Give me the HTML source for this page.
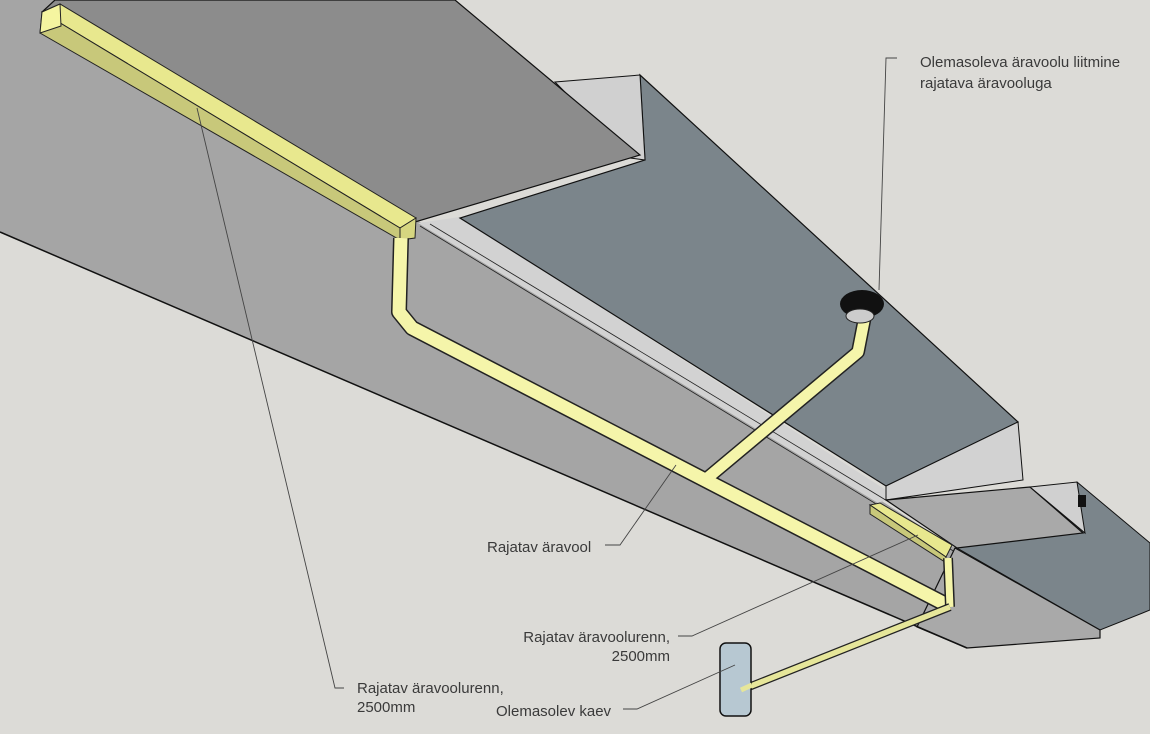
<!DOCTYPE html>
<html><head><meta charset="utf-8"><style>
html,body{margin:0;padding:0;background:#dcdbd7;}
svg{display:block;}
text{font-family:"Liberation Sans",sans-serif;font-size:15px;fill:#3a3a3a;}
</style></head><body>
<svg width="1150" height="734" viewBox="0 0 1150 734" xmlns="http://www.w3.org/2000/svg">
<rect width="1150" height="734" fill="#dcdbd7"/>
<!-- side face -->
<polygon points="0,0 60,0 420,222 880,500 955,548 962,610 967,648 0,232" fill="#a5a5a5"/>
<!-- light strip -->
<polygon points="418,223 460,217 886,490 886,500 878,503" fill="#d2d2d2"/>
<!-- dark sloped surface -->
<polygon points="640,75 1018,422 886,486 460,218 645,160" fill="#7b858b" stroke="#111" stroke-width="1.2"/>
<line x1="420" y1="226" x2="955" y2="552" stroke="#222" stroke-width="0.8"/>
<line x1="430" y1="224" x2="960" y2="545" stroke="#222" stroke-width="0.8"/>
<!-- pier 1 -->
<polygon points="555,82 640,75 645,160 630,158" fill="#d0d0d0" stroke="#111" stroke-width="1"/>
<!-- slab top -->
<polygon points="55,0 455,0 640,155 415,222 42,12" fill="#8c8c8c" stroke="#111" stroke-width="1.2"/>
<!-- pier 2 -->
<polygon points="886,486 1018,422 1023,480 886,500" fill="#d2d2d2" stroke="#111" stroke-width="1"/>
<!-- right dark -->
<polygon points="1077,482 1150,543 1150,610 1100,630 957,548" fill="#7b858b" stroke="#111" stroke-width="1"/>
<!-- lower step face -->
<polygon points="886,500 1030,487 1083,533 957,548" fill="#a9a9a9" stroke="#111" stroke-width="1.2"/>
<!-- pier 3 -->
<polygon points="1030,487 1077,482 1085,533" fill="#d0d0d0" stroke="#111" stroke-width="1"/>
<rect x="1078" y="495" width="8" height="12" fill="#111"/>
<!-- lower block face -->
<polygon points="955,548 1100,630 1100,638 967,648 917,627" fill="#a9a9a9" stroke="#111" stroke-width="1.2"/>
<line x1="0" y1="232" x2="967" y2="648" stroke="#111" stroke-width="1.5"/>
<!-- main gutter -->
<polygon points="42,12 60,4 416,218 400,228" fill="#e8e88e" stroke="#222" stroke-width="1"/>
<polygon points="42,12 400,228 400,240 40,33" fill="#c8c87a" stroke="#222" stroke-width="1"/>
<polygon points="400,228 416,218 415,238 400,240" fill="#d6d680" stroke="#222" stroke-width="1"/>
<polygon points="42,12 60,4 61,26 40,33" fill="#f5f5a0" stroke="#222" stroke-width="1"/>
<!-- pipes -->
<g fill="none" stroke-linejoin="round" stroke-linecap="butt">
<polyline points="401,238 399,312 412,328 705,480 945,604" stroke="#222" stroke-width="16"/>
<polyline points="705,480 858,352 865,316" stroke="#222" stroke-width="14"/>
<polyline points="401,238 399,312 412,328 705,480 945,604" stroke="#f5f5aa" stroke-width="13"/>
<polyline points="705,480 858,352 865,316" stroke="#f5f5aa" stroke-width="11"/>
</g>
<!-- blob -->
<ellipse cx="862" cy="304" rx="22" ry="14" fill="#111"/>
<ellipse cx="860" cy="316" rx="14" ry="7" fill="#ccc" stroke="#222"/>
<!-- small gutter -->
<polygon points="870,505 880,503 952,545 946,557" fill="#e8e88e" stroke="#222" stroke-width="1"/>
<polygon points="870,505 946,557 945,562 870,514" fill="#c8c87a" stroke="#222" stroke-width="1"/>
<g fill="none">
<polyline points="948,558 950,607" stroke="#222" stroke-width="10"/>
<polyline points="948,558 950,607" stroke="#f5f5aa" stroke-width="7"/>
<polyline points="950,607 741,690" stroke="#222" stroke-width="8"/>
<polyline points="950,607 741,690" stroke="#e6e69a" stroke-width="5.5"/>
</g>
<!-- cylinder -->
<rect x="720" y="643" width="31" height="73" rx="6" fill="#b7c8d2" stroke="#111" stroke-width="1.5"/>
<line x1="741" y1="690" x2="752" y2="685" stroke="#e6e69a" stroke-width="5"/>
<!-- leaders -->
<g stroke="#444" stroke-width="0.9" fill="none">
<polyline points="897,58 886,58 879,290"/>
<polyline points="605,545 620,545 676,465"/>
<polyline points="678,636 692,636 918,535"/>
<polyline points="344,688 335,688 197,108"/>
<polyline points="623,709 637,709 735,665"/>
</g>
<text x="920" y="67">Olemasoleva äravoolu liitmine</text>
<text x="920" y="88">rajatava äravooluga</text>
<text x="487" y="552">Rajatav äravool</text>
<text x="670" y="642" text-anchor="end">Rajatav äravoolurenn,</text>
<text x="670" y="661" text-anchor="end">2500mm</text>
<text x="357" y="693">Rajatav äravoolurenn,</text>
<text x="357" y="712">2500mm</text>
<text x="496" y="716">Olemasolev kaev</text>
</svg>
</body></html>
